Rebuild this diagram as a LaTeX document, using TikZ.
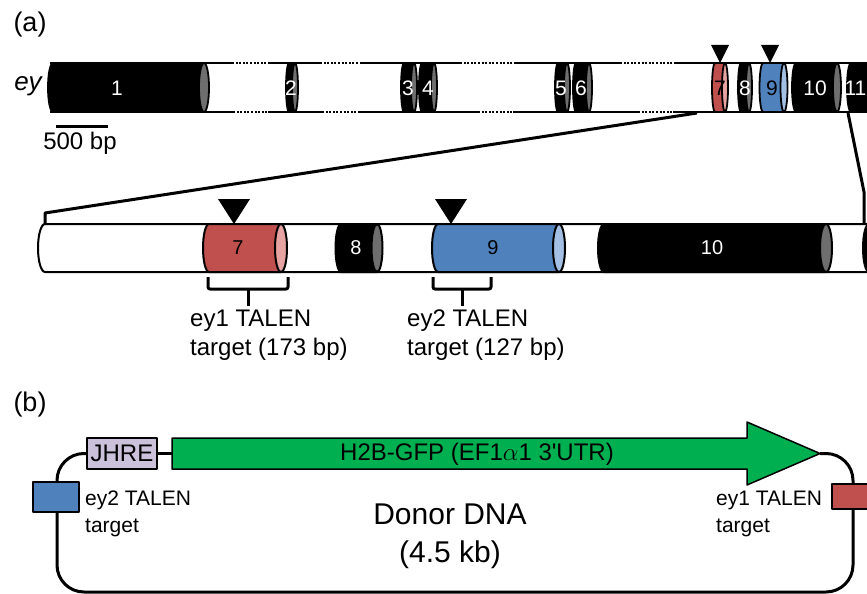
\documentclass[tikz,border=0pt]{standalone}
\usepackage{fontspec}
\setmainfont{Liberation Sans}
\newfontfamily\plainarial{Liberation Sans}
\definecolor{exred}{HTML}{C0504D}
\definecolor{exredface}{HTML}{E6A3A2}
\definecolor{exblue}{HTML}{4F81BD}
\definecolor{exblueface}{HTML}{A3C0E4}
\definecolor{exgray}{HTML}{6E6E6E}
\definecolor{jhrefill}{HTML}{CCC1DA}
\definecolor{gfpgreen}{HTML}{00B050}
% cylinder: xl, xr, ytop, ybot, rx, ry, fill, face
\newcommand\cylseg[8]{%
  \draw[fill=#7] (#1,#3) arc[start angle=90,end angle=270,x radius=#5pt,y radius=#6pt] -- (#2,#4) -- (#2,#3) -- cycle;
  \draw[fill=#8] (#2,{(#3+#4)/2}) ellipse[x radius=#5pt,y radius=#6pt];
}
\newcommand\gapline[3]{%
  \draw[white,line width=2.8pt] (#1,#3) -- (#2,#3);
  \draw[dash pattern=on 2pt off 1.6pt] (#1,#3) -- (#2,#3);
}
\tikzset{
  numw/.style={text=white,font=\fontsize{21}{23}\selectfont,inner sep=0pt},
  numk/.style={text=black,font=\fontsize{21}{23}\selectfont,inner sep=0pt},
  enumw/.style={text=white,font=\fontsize{20}{22}\selectfont,inner sep=0pt},
  enumk/.style={text=black,font=\fontsize{20}{22}\selectfont,inner sep=0pt},
  lbl/.style={font=\fontsize{24}{29}\selectfont,align=left,inner sep=0pt},
  smalllbl/.style={font=\fontsize{21}{27}\selectfont,align=left,inner sep=0pt},
  zoomline/.style={line width=3pt},
  bracestyle/.style={line width=3pt,rounded corners=2pt},
}
\begin{document}
\begin{tikzpicture}[x=1pt,y=-1pt,line join=round]
\useasboundingbox (0,0) rectangle (867,594);
\begin{scope}
\clip (0,0) rectangle (867,594);

% ---------- panel (a) ----------
\node[font=\fontsize{27}{30}\selectfont,inner sep=0pt] (lbla) at (30,25) {(a)};
\node[font=\itshape\fontsize{26}{28}\selectfont,inner sep=0pt] (eylbl) at (28,86) {ey};

% top bar
\begin{scope}[line width=1.8pt]
\fill[white] (50,63) rectangle (880,112);
\draw (50,63) -- (880,63);
\draw (50,112) -- (880,112);
\gapline{232}{268}{63}
\gapline{233}{268}{112}
\gapline{320}{362}{63}
\gapline{322}{360}{112}
\gapline{460}{515}{63}
\gapline{478}{513}{112}
\gapline{620}{675}{63}
\gapline{638}{673}{112}
\cylseg{53}{204}{63}{112}{5}{24.5}{black}{exgray}
\cylseg{289}{295}{63}{112}{3}{24.5}{black}{exgray}
\cylseg{404}{414}{63}{112}{3}{24.5}{black}{exgray}
\cylseg{422}{434}{63}{112}{3}{24.5}{black}{exgray}
\cylseg{558}{567}{63}{112}{3}{24.5}{black}{exgray}
\cylseg{576}{589}{63}{112}{3}{24.5}{black}{exgray}
\cylseg{715}{725}{63}{112}{3}{24.5}{exred}{exredface}
\cylseg{741}{749}{63}{112}{3}{24.5}{black}{exgray}
\cylseg{763}{784}{63}{112}{3.5}{24.5}{exblue}{exblueface}
\cylseg{796}{837}{63}{112}{4}{24.5}{black}{exgray}
\cylseg{851}{895}{63}{112}{4}{24.5}{black}{exgray}
\end{scope}
\node[numw] (t1) at (117,88) {1};
\node[numw] (t2) at (291,88) {2};
\node[numw] (t3) at (408,88) {3};
\node[numw] (t4) at (428,88) {4};
\node[numw] (t5) at (561,88) {5};
\node[numw] (t6) at (581,88) {6};
\node[numk] (t7) at (720,88) {7};
\node[numw] (t8) at (745,88) {8};
\node[numk] (t9) at (772,88) {9};
\node[numw] (t10) at (815,88) {10};
\node[numw,anchor=east] (t11) at (866.5,88) {11};

% triangles on top bar
\fill (711,45) -- (729,45) -- (720,63) -- cycle;
\fill (761,45) -- (779,45) -- (770,63) -- cycle;

% scale bar
\coordinate (sbl) at (56,126);
\coordinate (sbr) at (108,126);
\draw[line width=3pt] (sbl) -- (sbr);
\node[font=\fontsize{24}{28}\selectfont,inner sep=0pt] (sbtext) at (80,143) {500 bp};

% zoom lines
\coordinate (zl1) at (697,113);
\coordinate (zl2) at (45,213);
\coordinate (zl3) at (45,225);
\coordinate (zr1) at (848,113);
\coordinate (zr2) at (864,192);
\coordinate (zr3) at (864,225);
\draw[zoomline] (zl1) -- (zl2) -- (zl3);
\draw[zoomline] (zr1) -- (zr2) -- (zr3);

% expanded bar
\begin{scope}[line width=2pt]
\draw[fill=white] (45,224) arc[start angle=90,end angle=270,x radius=7pt,y radius=24pt] -- (890,272) -- (890,224) -- cycle;
\cylseg{209}{281}{224}{272}{6}{24}{exred}{exredface}
\cylseg{341}{377}{224}{272}{5.5}{24}{black}{exgray}
\cylseg{438}{559}{224}{272}{6}{24}{exblue}{exblueface}
\cylseg{604}{826}{224}{272}{6}{24}{black}{exgray}
\cylseg{869}{920}{224}{272}{6}{24}{black}{exgray}
\end{scope}
\node[enumk] (e7) at (238,248) {7};
\node[enumw] (e8) at (356,248) {8};
\node[enumk] (e9) at (493,248) {9};
\node[enumw] (e10) at (712,248) {10};

% triangles on expanded bar
\fill (218,199) -- (250,199) -- (234,224) -- cycle;
\fill (435,199) -- (467,199) -- (451,224) -- cycle;

% braces
\draw[bracestyle] (208,277) -- (208,289) -- (288,289) -- (288,277);
\draw[line width=3pt] (248,289) -- (248,306);
\draw[bracestyle] (433,277) -- (433,289) -- (491,289) -- (491,277);
\draw[line width=3pt] (462,289) -- (462,306);

\node[lbl,anchor=north west] (ey1lbl) at (190,310) {ey1 TALEN\\target (173 bp)};
\node[lbl,anchor=north west] (ey2lbl) at (407,310) {ey2 TALEN\\target (127 bp)};

% ---------- panel (b) ----------
\node[font=\fontsize{27}{30}\selectfont,inner sep=0pt] (lblb) at (30,405) {(b)};

% plasmid backbone
\coordinate (tip) at (820,453.5);
\coordinate (jl) at (87,453.5);
\draw[line width=3pt,rounded corners=27pt] (tip) -- (853,453.5) -- (853,592) -- (57,592) -- (57,453.5) -- (jl);

% JHRE box
\node[draw,line width=1.5pt,fill=jhrefill,minimum width=70pt,minimum height=31pt,inner sep=0pt,
      font=\fontsize{24}{28}\selectfont] (jhre) at (122,453.5) {JHRE};
% green arrow
\draw[line width=1.5pt,fill=gfpgreen] (172,438) -- (747,438) -- (747,422) -- (tip) -- (747,485) -- (747,469) -- (172,469) -- cycle;
\coordinate (gl) at (172,453.5);
\draw[line width=3pt] (jhre.east) -- (gl);
\node[font=\plainarial\fontsize{24}{28}\selectfont,inner sep=0pt] (gfp) at (477,454) {H2B-GFP (EF1$\alpha$1 3'UTR)};

% TALEN target boxes
\draw[line width=1.5pt,fill=exblue] (33,482) rectangle (79,512);
\draw[line width=1.5pt,fill=exred] (832,484) rectangle (885,509);
\node[smalllbl,anchor=north west] (ey2t) at (85,491) {ey2 TALEN\\target};
\node[smalllbl,anchor=north west] (ey1t) at (716,491) {ey1 TALEN\\target};

\node[font=\fontsize{30}{38}\selectfont,align=center,inner sep=0pt] (donor) at (450,536) {Donor DNA\\(4.5 kb)};
\end{scope}
\end{tikzpicture}
\end{document}
